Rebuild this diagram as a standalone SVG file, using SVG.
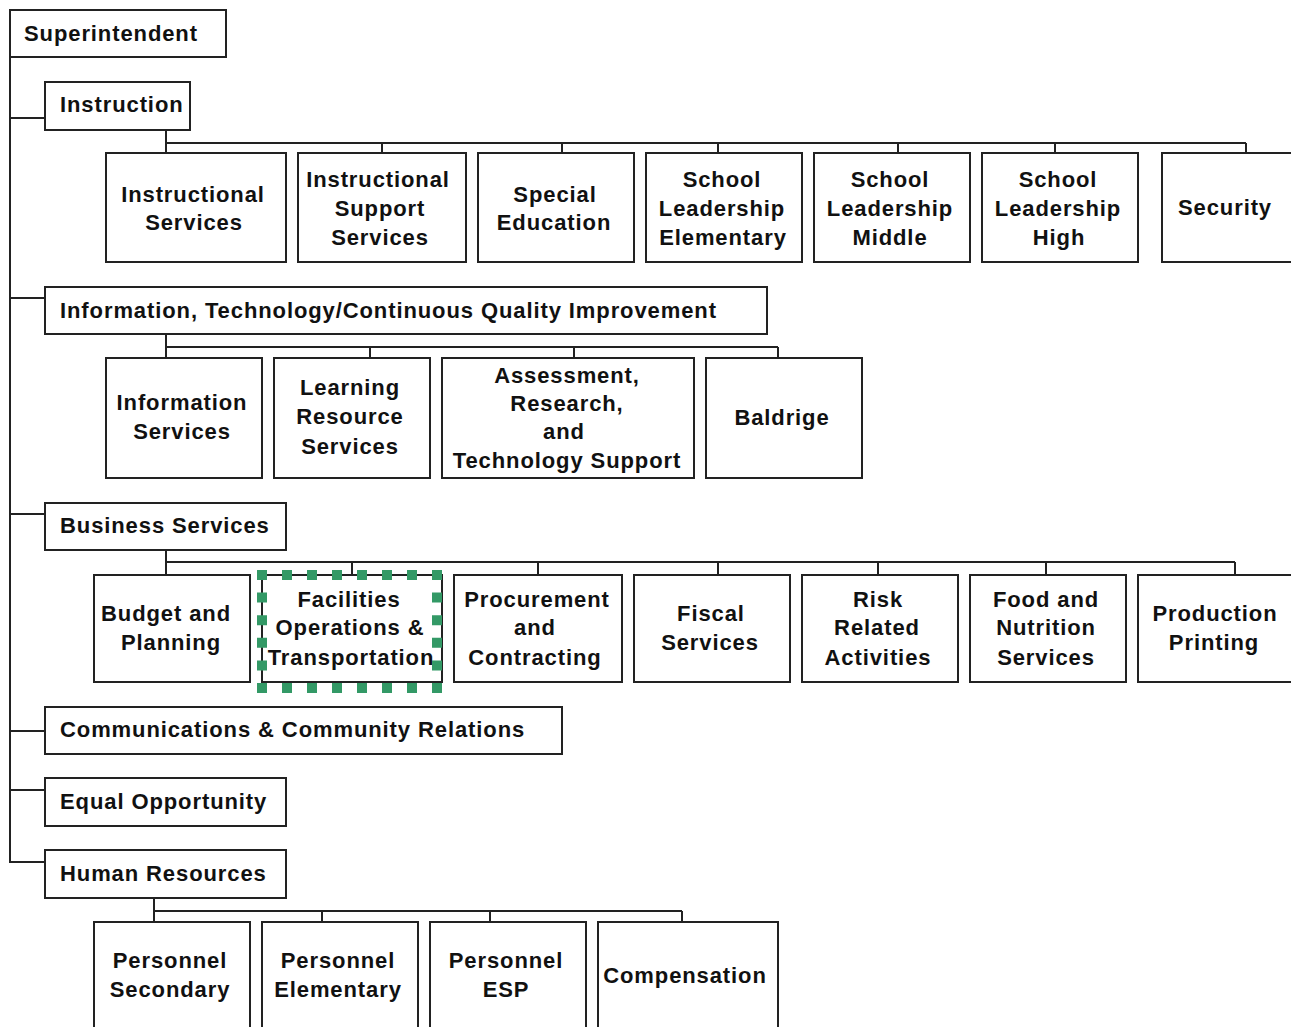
<svg xmlns="http://www.w3.org/2000/svg" width="1291" height="1027" viewBox="0 0 1291 1027">
<style>
.box{fill:#fff;stroke:#222;stroke-width:2}
.ln{fill:none;stroke:#222;stroke-width:2}
text{font-family:"Liberation Sans",Arial,sans-serif;font-weight:bold;font-size:22px;fill:#111;letter-spacing:0.9px}
.c{text-anchor:middle}
.gh{stroke:#339966;stroke-width:10;stroke-dasharray:10 15;fill:none}
.gv{stroke:#339966;stroke-width:10;stroke-dasharray:10 12.6;fill:none}
</style>
<rect width="1291" height="1027" fill="#fff"/>
<g id="connectors">
<path class="ln" d="M10 57V863M10 118H45M10 298H45M10 514H45M10 731H45M10 790H45M10 862H45"/>
<path class="ln" d="M166 130V153M166 143H1246M382 143V153M562 143V153M718 143V153M898 143V153M1055 143V153M1246 143V153"/>
<path class="ln" d="M166 334V358M166 347H778M370 347V358M574 347V358M778 347V358"/>
<path class="ln" d="M166 550V575M166 562H1235M352 562V575M538 562V575M718 562V575M878 562V575M1046 562V575M1235 562V575"/>
<path class="ln" d="M154 898V922M154 911H682M322 911V922M490 911V922M682 911V922"/>
</g>
<g id="superintendent"><rect class="box" x="10" y="10" width="216" height="47"/><text x="24" y="41">Superintendent</text></g>
<g id="instruction"><rect class="box" x="45" y="82" width="145" height="48"/><text x="60" y="112">Instruction</text></g>
<g id="instructional-services"><rect class="box" x="106" y="153" width="180" height="109"/><text class="c" x="193" y="201.5">Instructional</text><text class="c" x="194" y="230">Services</text></g>
<g id="instructional-support"><rect class="box" x="298" y="153" width="168" height="109"/><text class="c" x="378" y="187">Instructional</text><text class="c" x="380" y="216">Support</text><text class="c" x="380" y="245">Services</text></g>
<g id="special-education"><rect class="box" x="478" y="153" width="156" height="109"/><text class="c" x="555" y="201.5">Special</text><text class="c" x="554" y="230">Education</text></g>
<g id="sl-elementary"><rect class="box" x="646" y="153" width="156" height="109"/><text class="c" x="722" y="187">School</text><text class="c" x="722" y="216">Leadership</text><text class="c" x="723" y="245">Elementary</text></g>
<g id="sl-middle"><rect class="box" x="814" y="153" width="156" height="109"/><text class="c" x="890" y="187">School</text><text class="c" x="890" y="216">Leadership</text><text class="c" x="890" y="245">Middle</text></g>
<g id="sl-high"><rect class="box" x="982" y="153" width="156" height="109"/><text class="c" x="1058" y="187">School</text><text class="c" x="1058" y="216">Leadership</text><text class="c" x="1059" y="245">High</text></g>
<g id="security"><rect class="box" x="1162" y="153" width="150" height="109"/><text class="c" x="1225" y="215">Security</text></g>
<g id="itcqi"><rect class="box" x="45" y="287" width="722" height="47"/><text x="60" y="317.5">Information, Technology/Continuous Quality Improvement</text></g>
<g id="information-services"><rect class="box" x="106" y="358" width="156" height="120"/><text class="c" x="182" y="410">Information</text><text class="c" x="182" y="438.5">Services</text></g>
<g id="learning-resource"><rect class="box" x="274" y="358" width="156" height="120"/><text class="c" x="350" y="395">Learning</text><text class="c" x="350" y="424">Resource</text><text class="c" x="350" y="454">Services</text></g>
<g id="assessment"><rect class="box" x="442" y="358" width="252" height="120"/><text class="c" x="567" y="383">Assessment,</text><text class="c" x="567" y="411">Research,</text><text class="c" x="564" y="439">and</text><text class="c" x="567" y="468">Technology Support</text></g>
<g id="baldrige"><rect class="box" x="706" y="358" width="156" height="120"/><text class="c" x="782" y="424.5">Baldrige</text></g>
<g id="business-services"><rect class="box" x="45" y="503" width="241" height="47"/><text x="60" y="533">Business Services</text></g>
<g id="budget-planning"><rect class="box" x="94" y="575" width="156" height="107"/><text class="c" x="166" y="621">Budget and</text><text class="c" x="171" y="650">Planning</text></g>
<g id="facilities"><rect class="box" x="262" y="575" width="180" height="107"/><text class="c" x="349" y="606.5">Facilities</text><text class="c" x="350" y="635">Operations &amp;</text><text class="c" x="351" y="664.5">Transportation</text>
<line class="gh" x1="257" y1="575" x2="442" y2="575"/><line class="gh" x1="257" y1="688" x2="442" y2="688"/><line class="gv" x1="262" y1="570" x2="262" y2="693"/><line class="gv" x1="437" y1="570" x2="437" y2="693"/></g>
<g id="procurement"><rect class="box" x="454" y="575" width="168" height="107"/><text class="c" x="537" y="606.5">Procurement</text><text class="c" x="535" y="635">and</text><text class="c" x="535" y="664.5">Contracting</text></g>
<g id="fiscal"><rect class="box" x="634" y="575" width="156" height="107"/><text class="c" x="711" y="621">Fiscal</text><text class="c" x="710" y="650">Services</text></g>
<g id="risk"><rect class="box" x="802" y="575" width="156" height="107"/><text class="c" x="878" y="606.5">Risk</text><text class="c" x="877" y="635">Related</text><text class="c" x="878" y="664.5">Activities</text></g>
<g id="food-nutrition"><rect class="box" x="970" y="575" width="156" height="107"/><text class="c" x="1046" y="606.5">Food and</text><text class="c" x="1046" y="635">Nutrition</text><text class="c" x="1046" y="664.5">Services</text></g>
<g id="production-printing"><rect class="box" x="1138" y="575" width="170" height="107"/><text class="c" x="1215" y="621">Production</text><text class="c" x="1214" y="650">Printing</text></g>
<g id="communications"><rect class="box" x="45" y="707" width="517" height="47"/><text x="60" y="737">Communications &amp; Community Relations</text></g>
<g id="equal-opportunity"><rect class="box" x="45" y="778" width="241" height="48"/><text x="60" y="809">Equal Opportunity</text></g>
<g id="human-resources"><rect class="box" x="45" y="850" width="241" height="48"/><text x="60" y="881">Human Resources</text></g>
<g id="personnel-secondary"><rect class="box" x="94" y="922" width="156" height="120"/><text class="c" x="170" y="968">Personnel</text><text class="c" x="170" y="996.5">Secondary</text></g>
<g id="personnel-elementary"><rect class="box" x="262" y="922" width="156" height="120"/><text class="c" x="338" y="968">Personnel</text><text class="c" x="338" y="996.5">Elementary</text></g>
<g id="personnel-esp"><rect class="box" x="430" y="922" width="156" height="120"/><text class="c" x="506" y="968">Personnel</text><text class="c" x="506" y="996.5">ESP</text></g>
<g id="compensation"><rect class="box" x="598" y="922" width="180" height="120"/><text class="c" x="685" y="983">Compensation</text></g>
</svg>
